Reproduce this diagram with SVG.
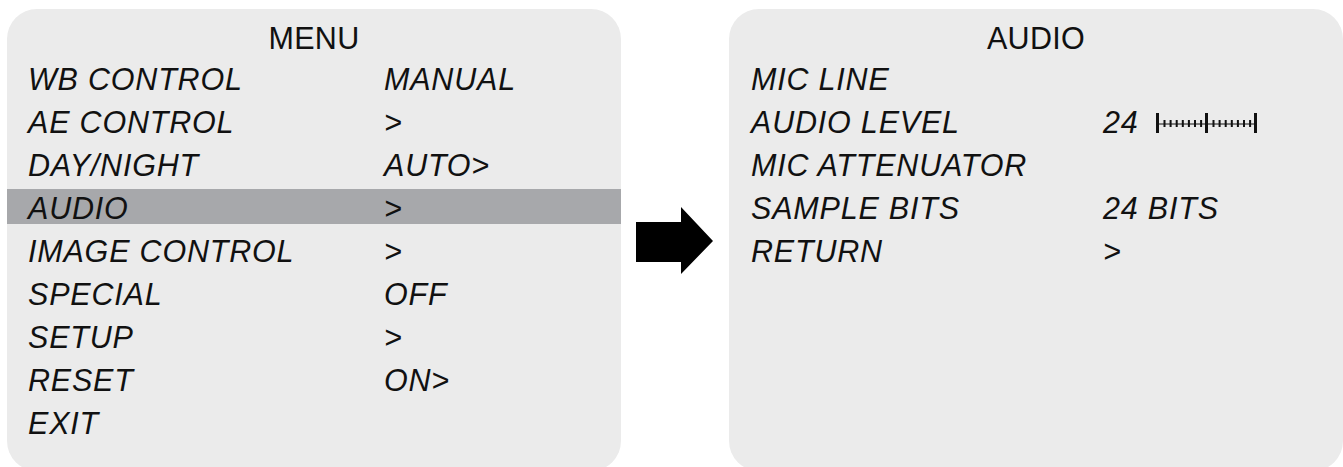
<svg xmlns="http://www.w3.org/2000/svg" width="1343" height="467" viewBox="0 0 1343 467">
<style>
.panel{fill:#ebebeb}
.t{font-family:"Liberation Sans",Arial,Helvetica,sans-serif;font-size:30.5px;letter-spacing:0.8px;fill:#111;font-style:italic}
.title{font-family:"Liberation Sans",Arial,Helvetica,sans-serif;font-size:30.5px;letter-spacing:0.3px;fill:#111;text-anchor:middle}
.hl{fill:#a7a8ab}
.tick{fill:#111}
</style>
<rect width="1343" height="467" fill="#fff"/>
<g id="menu">
<rect class="panel" x="7" y="9" width="614" height="462" rx="30" ry="30"/>
<rect class="hl" x="7" y="189" width="614" height="35"/>
<text class="title" x="314" y="49">MENU</text>
<text class="t" x="28" y="90">WB CONTROL</text><text class="t" x="384" y="90">MANUAL</text>
<text class="t" x="28" y="133">AE CONTROL</text><text class="t" x="384" y="133">&gt;</text>
<text class="t" x="28" y="176">DAY/NIGHT</text><text class="t" x="384" y="176">AUTO&gt;</text>
<text class="t" x="28" y="219">AUDIO</text><text class="t" x="384" y="219">&gt;</text>
<text class="t" x="28" y="262">IMAGE CONTROL</text><text class="t" x="384" y="262">&gt;</text>
<text class="t" x="28" y="305">SPECIAL</text><text class="t" x="384" y="305">OFF</text>
<text class="t" x="28" y="348">SETUP</text><text class="t" x="384" y="348">&gt;</text>
<text class="t" x="28" y="391">RESET</text><text class="t" x="384" y="391">ON&gt;</text>
<text class="t" x="28" y="434">EXIT</text>
</g>
<g id="audio">
<rect class="panel" x="729" y="9" width="614" height="462" rx="30" ry="30"/>
<text class="title" x="1036" y="49">AUDIO</text>
<text class="t" x="751" y="90">MIC LINE</text>
<text class="t" x="751" y="133">AUDIO LEVEL</text><text class="t" x="1103" y="133">24</text>
<text class="t" x="751" y="176">MIC ATTENUATOR</text>
<text class="t" x="751" y="219">SAMPLE BITS</text><text class="t" x="1103" y="219">24 BITS</text>
<text class="t" x="751" y="262">RETURN</text><text class="t" x="1103" y="262">&gt;</text>
<g id="level-bar">
<rect class="tick" x="1156" y="123.5" width="100" height="1"/>
<rect class="tick" x="1156" y="113" width="3" height="20"/>
<rect class="tick" x="1205" y="113" width="3" height="20"/>
<rect class="tick" x="1254" y="113" width="3" height="20"/>
<rect class="tick" x="1163.5" y="120" width="2" height="7"/>
<rect class="tick" x="1169.6" y="120" width="2" height="7"/>
<rect class="tick" x="1175.7" y="120" width="2" height="7"/>
<rect class="tick" x="1181.8" y="120" width="2" height="7"/>
<rect class="tick" x="1187.9" y="120" width="2" height="7"/>
<rect class="tick" x="1194" y="120" width="2" height="7"/>
<rect class="tick" x="1200.1" y="120" width="2" height="7"/>
<rect class="tick" x="1212.5" y="120" width="2" height="7"/>
<rect class="tick" x="1218.6" y="120" width="2" height="7"/>
<rect class="tick" x="1224.7" y="120" width="2" height="7"/>
<rect class="tick" x="1230.8" y="120" width="2" height="7"/>
<rect class="tick" x="1236.9" y="120" width="2" height="7"/>
<rect class="tick" x="1243" y="120" width="2" height="7"/>
<rect class="tick" x="1249.1" y="120" width="2" height="7"/>
</g>
</g>
<g id="connectors">
<polygon points="636,222 681,222 681,207 713,241 681,274 681,262 636,262" fill="#000"/>
</g>
</svg>
